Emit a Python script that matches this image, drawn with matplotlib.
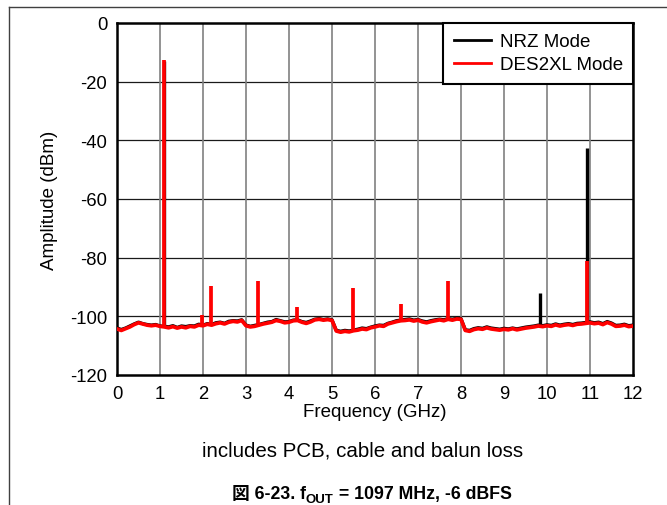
import numpy as np
import matplotlib
matplotlib.use("Agg")
import matplotlib.pyplot as plt
from matplotlib.lines import Line2D

plt.rcParams['font.family'] = ['Liberation Sans', 'DejaVu Sans']
plt.rcParams['axes.unicode_minus'] = False

# frequency grid of the noise floor samples (GHz)
freq = np.linspace(0, 12, 121)

# NRZ mode noise floor (dBm)
nrz_floor = [-104.0, -104.5, -104.0, -103.3, -102.6, -102.0, -102.5, -102.8, -103.0, -102.8,
             -103.3, -103.4, -103.6, -103.2, -103.8, -103.3, -103.5, -103.2, -103.3, -102.7,
             -103.0, -102.5, -102.8, -102.2, -102.0, -102.4, -101.7, -101.5, -101.6, -101.2,
             -103.0, -103.4, -103.1, -102.8, -102.4, -102.0, -101.8, -101.1, -101.5, -101.9,
             -101.8, -101.3, -101.2, -101.8, -102.1, -101.6, -101.0, -100.8, -101.1, -100.9,
             -101.2, -104.8, -105.1, -104.8, -105.0, -104.7, -104.4, -104.0, -104.2, -103.7,
             -103.3, -103.0, -103.1, -102.4, -102.0, -101.5, -101.3, -101.1, -100.9, -101.3,
             -101.1, -101.6, -101.9, -101.5, -101.2, -101.0, -101.2, -100.8, -101.0, -100.7,
             -100.8, -104.6, -104.8, -104.2, -103.9, -104.1, -103.6, -104.0, -104.2, -104.4,
             -104.1, -104.3, -104.0, -104.3, -104.0, -103.7, -103.5, -103.3, -103.0, -103.2,
             -102.9, -103.1, -102.6, -103.0, -102.7, -102.5, -102.8, -102.4, -102.3, -102.1,
             -101.9, -102.2, -102.0, -102.5, -101.8, -102.3, -103.1, -103.0, -102.7, -103.2,
             -103.0]

# DES2XL mode noise floor (dBm)
des_floor = [-104.3, -104.8, -104.2, -103.6, -102.8, -102.2, -102.6, -103.0, -103.2, -103.0,
             -103.4, -103.6, -103.9, -103.5, -104.0, -103.6, -103.9, -103.4, -103.6, -103.0,
             -103.2, -102.7, -103.0, -102.5, -102.2, -102.6, -102.0, -101.7, -101.9, -101.4,
             -103.2, -103.6, -103.4, -103.0, -102.6, -102.3, -102.0, -101.4, -101.7, -102.2,
             -102.0, -101.5, -101.4, -102.0, -102.4, -101.9, -101.2, -101.0, -101.3, -101.1,
             -101.4, -105.0, -105.4, -105.1, -105.3, -104.9, -104.7, -104.3, -104.5, -103.9,
             -103.6, -103.2, -103.4, -102.6, -102.2, -101.8, -101.5, -101.4, -101.2, -101.6,
             -101.3, -101.9, -102.2, -101.8, -101.5, -101.2, -101.5, -101.0, -101.3, -100.9,
             -101.0, -104.8, -105.1, -104.5, -104.2, -104.4, -103.9, -104.3, -104.5, -104.7,
             -104.4, -104.6, -104.2, -104.6, -104.3, -104.0, -103.8, -103.6, -103.3, -103.5,
             -103.2, -103.4, -102.9, -103.3, -103.0, -102.8, -103.1, -102.7, -102.6, -102.4,
             -102.2, -102.5, -102.3, -102.8, -102.1, -102.6, -103.4, -103.3, -103.0, -103.5,
             -103.3]

# spurs: frequency (GHz) and peak level (dBm)
nrz_spur_f = [1.097, 9.84, 10.93]
nrz_spur_db = [-13, -92, -42.6]
des_spur_f = [1.097, 1.97, 2.19, 3.29, 4.19, 5.48, 6.6, 7.7, 10.94]
des_spur_db = [-12.6, -99.4, -89.7, -88, -96.8, -90.3, -95.9, -87.9, -81]

fig = plt.figure(figsize=(6.67, 5.06), dpi=100)
ax = fig.add_axes([117/667, 1-376/506, 516/667, 352/506])

ax.plot(freq, nrz_floor, color='black', lw=2.4, zorder=3)
ax.vlines(nrz_spur_f, np.interp(nrz_spur_f, freq, nrz_floor), nrz_spur_db,
          color='black', lw=2.4, zorder=3)
ax.plot(freq, des_floor, color='#ff0000', lw=2.7, zorder=4)
ax.vlines(des_spur_f, np.interp(des_spur_f, freq, des_floor), des_spur_db,
          color='#ff0000', lw=2.7, zorder=4)

ax.set_xlim(0, 12)
ax.set_ylim(-120, 0)
ax.set_xticks(range(0, 13))
ax.set_yticks(range(-120, 1, 20))
for y in range(-100, 0, 20):
    ax.axhline(y, color='#1a1a1a', lw=0.9, zorder=1)
for x in range(1, 12):
    ax.axvline(x, color='#808080', lw=1.2, zorder=1)
ax.tick_params(length=0, labelsize=13.3, pad=7)
for s in ax.spines.values():
    s.set_linewidth(1.8)

ax.set_xlabel('Frequency (GHz)', fontsize=13.5, va='center')
ax.xaxis.set_label_coords(0.5, -0.105)
ax.set_ylabel('Amplitude (dBm)', fontsize=13.5, va='center')
ax.yaxis.set_label_coords(-0.13, 0.5)

handles = [Line2D([], [], color='black', lw=2), Line2D([], [], color='#ff0000', lw=2)]
leg = ax.legend(handles, ['NRZ Mode', 'DES2XL Mode'], loc='upper right', fontsize=13.5,
                borderaxespad=0, fancybox=False, framealpha=1, edgecolor='black',
                handlelength=2.0, handletextpad=0.45, labelspacing=0.3, borderpad=0.55)
leg.get_frame().set_linewidth(1.5)
leg.set_zorder(6)

# page decorations
fig.add_artist(Line2D([8.5/667, 1], [1-7.5/506, 1-7.5/506], color='#404040', lw=1))
fig.add_artist(Line2D([8.5/667, 8.5/667], [0, 1-7.5/506], color='#404040', lw=1))

fig.text(363/667, 1-451/506, 'includes PCB, cable and balun loss', fontsize=14.8,
         ha='center', va='center')

# caption, drawn in pieces for the subscript
cap_y = 1-499/506
fam = ['Liberation Sans', 'Noto Sans CJK JP']
t1 = fig.text(232/667, cap_y, '図 6-23. f', fontsize=12.8, fontweight='bold',
              family=fam, va='baseline')
fig.canvas.draw()
r = fig.canvas.get_renderer()
x1 = t1.get_window_extent(r).x1
t2 = fig.text(x1/667, cap_y - 4/506, 'OUT', fontsize=9.5, fontweight='bold',
              family=fam, va='baseline')
fig.canvas.draw()
x2 = t2.get_window_extent(r).x1
fig.text(x2/667, cap_y, ' = 1097 MHz, -6 dBFS', fontsize=12.8, fontweight='bold',
         family=fam, va='baseline')

fig.savefig('out.png', dpi=100)
